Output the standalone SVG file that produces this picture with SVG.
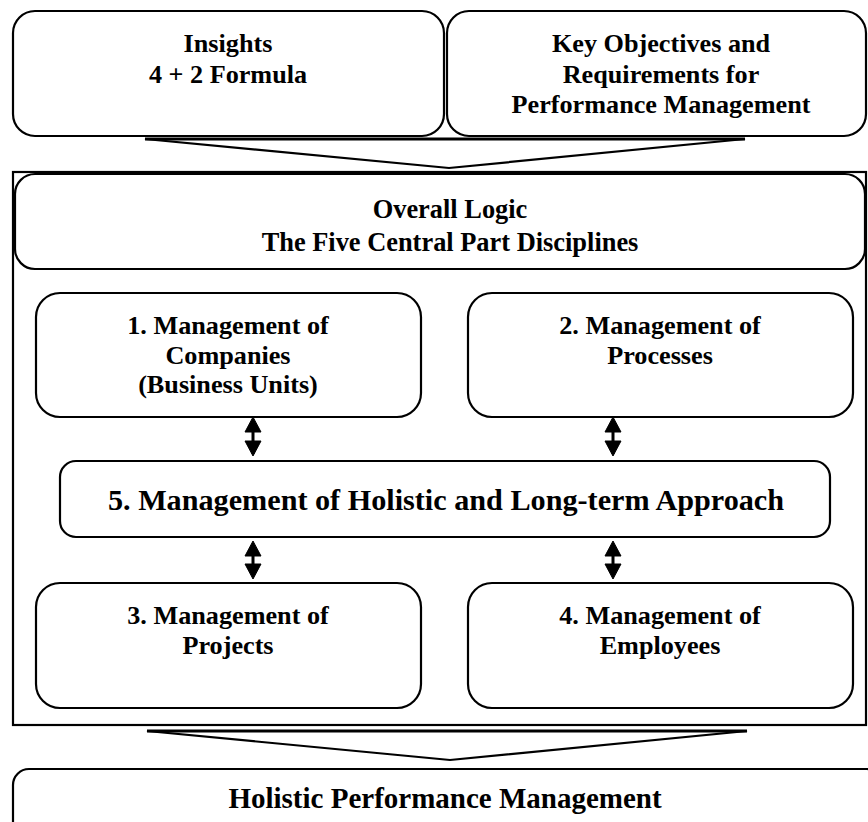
<svg xmlns="http://www.w3.org/2000/svg" width="868" height="822" viewBox="0 0 868 822">
<style>
.box{fill:#fff;stroke:#000;stroke-width:2.2}
.frame{fill:none;stroke:#000;stroke-width:2.2}
.t{font-family:"Liberation Serif","Times New Roman",serif;font-weight:bold;fill:#000;text-anchor:middle}
.s26{font-size:26.2px}
.s27{font-size:26.4px}
.s30{font-size:30.2px}
.s29{font-size:29px}
.chev{fill:#fff;stroke:#000;stroke-width:2.2;stroke-linejoin:miter}
.arr{fill:#000;stroke:#000;stroke-width:1}
</style>
<rect class="frame" x="13" y="172" width="853" height="553"/>
<g id="insights">
<rect class="box" x="13" y="11" width="431" height="125" rx="22"/>
<text class="t s26" x="228" y="52">Insights</text>
<text class="t s26" x="228" y="83">4 + 2 Formula</text>
</g>
<g id="objectives">
<rect class="box" x="447" y="11" width="419" height="125" rx="22"/>
<text class="t s26" x="661" y="52">Key Objectives and</text>
<text class="t s26" x="661" y="83">Requirements for</text>
<text class="t s26" x="661" y="113">Performance Management</text>
</g>
<g id="overall">
<rect class="box" x="15" y="174" width="850" height="95" rx="20"/>
<text class="t s27" x="450" y="218">Overall Logic</text>
<text class="t s27" x="450" y="251">The Five Central Part Disciplines</text>
</g>
<g id="m1">
<rect class="box" x="36" y="293" width="385" height="124" rx="24"/>
<text class="t s26" x="228" y="334">1. Management of</text>
<text class="t s26" x="228" y="364">Companies</text>
<text class="t s26" x="228" y="393">(Business Units)</text>
</g>
<g id="m2">
<rect class="box" x="468" y="293" width="385" height="124" rx="24"/>
<text class="t s26" x="660" y="334">2. Management of</text>
<text class="t s26" x="660" y="364">Processes</text>
</g>
<g id="m5">
<rect class="box" x="60" y="461" width="770" height="76" rx="16"/>
<text class="t s30" x="446" y="510">5. Management of Holistic and Long-term Approach</text>
</g>
<g id="m3">
<rect class="box" x="36" y="583" width="385" height="125" rx="24"/>
<text class="t s26" x="228" y="624">3. Management of</text>
<text class="t s26" x="228" y="654">Projects</text>
</g>
<g id="m4">
<rect class="box" x="468" y="583" width="385" height="125" rx="24"/>
<text class="t s26" x="660" y="624">4. Management of</text>
<text class="t s26" x="660" y="654">Employees</text>
</g>
<g id="hpm">
<rect class="box" x="13" y="769" width="870" height="80" rx="16"/>
<text class="t s29" x="445" y="808">Holistic Performance Management</text>
</g>
<g id="connectors">
<polygon class="chev" points="145,139 745,139 449,168"/>
<line x1="145" y1="139" x2="745" y2="139" stroke="#000" stroke-width="3"/>
<polygon class="chev" points="147,731 747,731 450,760"/>
<line x1="147" y1="731" x2="747" y2="731" stroke="#000" stroke-width="3"/>
<path class="arr" d="M253,417 L261,432 L245,432 Z M252,432 h2 v22 h-2 Z M245,441 L261,441 L253,456 Z"/>
<path class="arr" d="M613,417 L621,432 L605,432 Z M612,432 h2 v22 h-2 Z M605,441 L621,441 L613,456 Z"/>
<path class="arr" d="M253,541 L261,556 L245,556 Z M252,556 h2 v9 h-2 Z M245,564 L261,564 L253,579 Z"/>
<path class="arr" d="M613,541 L621,556 L605,556 Z M612,556 h2 v9 h-2 Z M605,564 L621,564 L613,579 Z"/>
</g>
</svg>
